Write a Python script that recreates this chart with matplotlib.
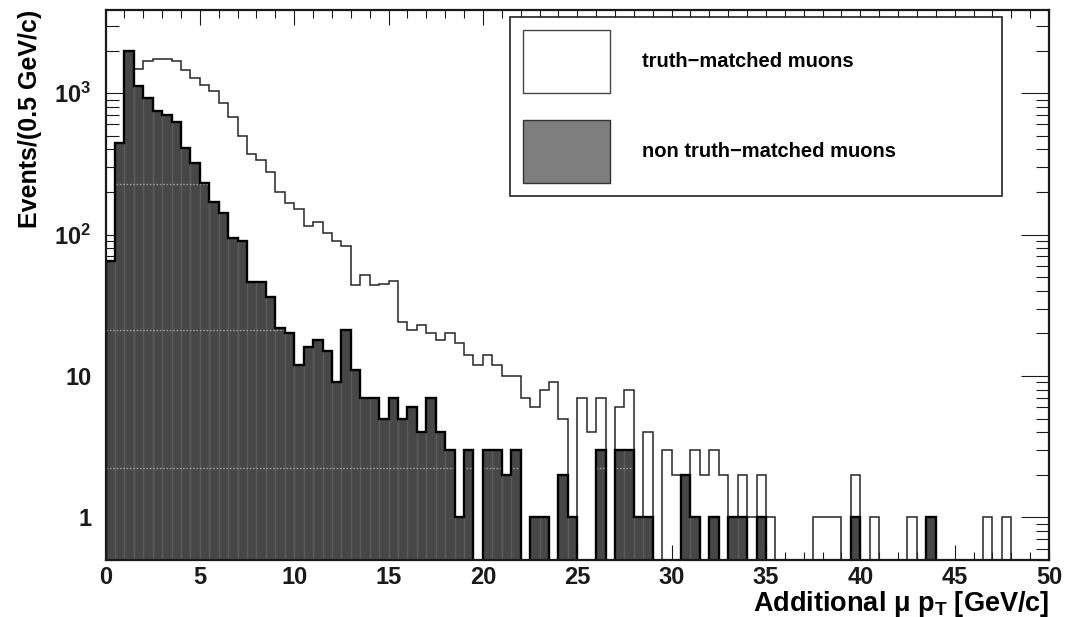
import numpy as np
import matplotlib
matplotlib.use("Agg")
import matplotlib.pyplot as plt
from matplotlib.patches import Patch
from matplotlib.ticker import FixedLocator, MultipleLocator, FuncFormatter, NullFormatter

plt.rcParams["font.family"] = ["Liberation Sans", "DejaVu Sans"]
plt.rcParams["font.weight"] = "bold"
plt.rcParams["mathtext.fontset"] = "custom"
plt.rcParams["mathtext.rm"] = "Liberation Sans:bold"
plt.rcParams["mathtext.it"] = "Liberation Sans:bold:italic"
plt.rcParams["mathtext.bf"] = "Liberation Sans:bold"
plt.rcParams["mathtext.default"] = "rm"

# Histogram binning: 100 bins of 0.5 GeV/c from 0 to 50 GeV/c
bin_width = 0.5
n_bins = 100
bin_edges = np.arange(n_bins + 1) * bin_width

# Events per bin, truth-matched muons
truth_matched = [
    20, 300, 1300, 1490, 1680, 1730, 1730, 1680, 1450, 1270,
    1150, 1030, 850, 680, 500, 369, 335, 277, 200, 168,
    152, 115, 122, 102, 90, 83, 44, 52, 44, 45,
    47, 24, 21, 23, 20, 18, 20, 17, 14, 12,
    14, 12, 10, 10, 7, 6, 8, 9, 5, 0,
    7, 4, 7, 0, 6, 8, 1, 4, 0, 3,
    2, 2, 3, 2, 3, 2, 1, 2, 1, 2,
    1, 0, 0, 0, 0, 1, 1, 1, 0, 2,
    0, 1, 0, 0, 0, 1, 0, 1, 0, 0,
    0, 0, 0, 1, 0, 1, 0, 0, 0, 0,
]

# Events per bin, non truth-matched muons
non_truth_matched = [
    65, 442, 2000, 1130, 917, 749, 698, 620, 412, 322,
    230, 171, 142, 95, 90, 46, 46, 36, 22, 20,
    12, 16, 18, 15, 9, 21, 11, 7, 7, 5,
    7, 5, 6, 4, 7, 4, 3, 1, 3, 0,
    3, 3, 2, 3, 0, 1, 1, 0, 2, 1,
    0, 0, 3, 0, 3, 3, 1, 1, 0, 0,
    0, 2, 1, 0, 1, 0, 1, 1, 0, 1,
    0, 0, 0, 0, 0, 0, 0, 0, 0, 1,
    0, 0, 0, 0, 0, 0, 0, 1, 0, 0,
    0, 0, 0, 0, 0, 0, 0, 0, 0, 0,
]

legend_labels = ["truth\u2212matched muons", "non truth\u2212matched muons"]
x_label = "Additional \u03bc p$_{\\mathregular{T}}$ [GeV/c]"
y_label = "Events/(0.5 GeV/c)"

x_range = (0, 50)
y_range = (0.5, 3870)
floor = 1e-3  # empty bins drop below the visible range

truth = np.asarray(truth_matched, dtype=float)
fake = np.asarray(non_truth_matched, dtype=float)
truth_draw = np.where(truth > 0, truth, floor)
fake_draw = np.where(fake > 0, fake, floor)

fig = plt.figure(figsize=(10.68, 6.17), dpi=100)
ax = fig.add_axes([0.0988, 0.0924, 0.8834, 0.8914])
ax.set_yscale("log")
ax.set_xlim(*x_range)
ax.set_ylim(*y_range)

# truth-matched: open outline
ax.stairs(truth_draw, bin_edges, baseline=floor, color="#262626", lw=1.1, zorder=2)

# non truth-matched: filled dark histogram with faint bin-edge stripes
fill = ax.stairs(fake_draw, bin_edges, baseline=floor, fill=True,
                 facecolor="#474747", edgecolor="none", zorder=3)
stripes = ax.vlines(bin_edges[1:-1], floor, np.maximum(fake_draw[:-1], fake_draw[1:]),
                    colors="#5c5c5c", lw=1.0, zorder=3.1)
stripes.set_clip_path(fill)
for level in (226, 21.2, 2.23):
    ln = ax.axhline(level, color="#9a9a9a", lw=1.0, ls=(0, (1.2, 1.2)), zorder=3.2)
    ln.set_clip_path(fill)
ax.stairs(fake_draw, bin_edges, baseline=floor, color="black", lw=1.7, zorder=3.5)

# ROOT-style frame and ticks
for s in ax.spines.values():
    s.set_linewidth(1.6)
    s.set_color("#1a1a1a")
    s.set_zorder(5)
ax.xaxis.set_major_locator(MultipleLocator(5))
ax.xaxis.set_minor_locator(MultipleLocator(1))
ax.yaxis.set_major_locator(FixedLocator([1, 10, 100, 1000]))
minor_y = [m * 10.0 ** e for e in range(-1, 4) for m in range(2, 10)]
ax.yaxis.set_minor_locator(FixedLocator(minor_y))
ax.yaxis.set_minor_formatter(NullFormatter())


def decade_label(v, pos):
    e = int(round(np.log10(v)))
    if e == 0:
        return "1"
    if e == 1:
        return "10"
    return f"$10^{{{e}}}$"


ax.yaxis.set_major_formatter(FuncFormatter(decade_label))
ax.tick_params(axis="both", which="both", direction="in", top=True, right=True,
               colors="#1a1a1a", width=0.8, labelsize=17)
ax.tick_params(axis="x", which="major", length=11, pad=4)
ax.tick_params(axis="x", which="minor", length=5.5)
ax.tick_params(axis="y", which="major", length=20, pad=10)
ax.tick_params(axis="y", which="minor", length=9.5)
for lab in ax.get_xticklabels() + ax.get_yticklabels():
    lab.set_fontweight("bold")

ax.set_xlabel(x_label, fontsize=19.5, fontweight="bold", loc="right")
ax.xaxis.set_label_coords(1.0, -0.053)
ax.xaxis.label.set_verticalalignment("top")
ax.set_ylabel(y_label, fontsize=18, fontweight="bold", loc="top", labelpad=9)

handles = [
    Patch(facecolor="white", edgecolor="#444444", lw=1.0),
    Patch(facecolor="#7e7e7e", edgecolor="#333333", lw=1.0),
]
fs = 14.5
fs_px = fs * 100 / 72
box_h = 63 / fs_px
leg = ax.legend(handles, legend_labels, loc="upper left", mode="expand",
                bbox_to_anchor=(0.4287, 0.0, 0.5215, 0.987),
                prop={"weight": "bold", "size": fs},
                handlelength=87 / fs_px, handleheight=(box_h - 0.245) / 0.65,
                handletextpad=32 / fs_px, labelspacing=27 / fs_px,
                borderpad=0.65, borderaxespad=0.0,
                fancybox=False, framealpha=1, edgecolor="#222222")
leg.get_frame().set_linewidth(1.2)
leg.set_zorder(6)

fig.savefig("out.png", dpi=100)
